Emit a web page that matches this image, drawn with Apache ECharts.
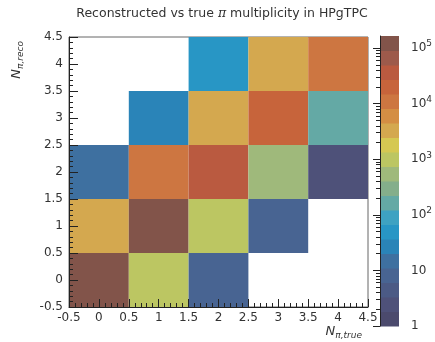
<!DOCTYPE html>
<html>
<head>
<meta charset="utf-8">
<script src="https://cdn.jsdelivr.net/npm/echarts@6/dist/echarts.min.js"></script>
<style>
  html, body { margin: 0; padding: 0; background: #fff; }
  #chart { width: 435px; height: 342px; }
</style>
</head>
<body>
<div id="chart"></div>
<script>
// true (x) and reco (y) pion multiplicity bins
const trueBins = [0, 1, 2, 3, 4];
const recoBins = [0, 1, 2, 3, 4];
// entries per bin, rows = reco bin, columns = true bin (null = empty)
const recoRow0 = [140000, 1000, 8, null, null];
const recoRow1 = [3300, 100000, 1000, 8, null];
const recoRow2 = [15, 11000, 37000, 550, 2.5];
const recoRow3 = [null, 27, 3300, 20000, 165];
const recoRow4 = [null, null, 50, 3300, 11000];
const counts = [recoRow0, recoRow1, recoRow2, recoRow3, recoRow4];
// colour scale range (z axis)
const zMin = 1;
const zMax = 165000;
const zDecades = [0, 1, 2, 3, 4, 5];

// 20 colour bands, low -> high
const palette = [
  "#4b4a6d", "#4e5179", "#4b5a85", "#486492", "#3e70a0",
  "#2a84b8", "#2896c5", "#3ea2c2", "#64a9a5", "#84ae8b",
  "#9fb97b", "#bcc662", "#d5c852", "#d4a84f", "#d48e44",
  "#cd7641", "#c7643b", "#ba5a40", "#9d5a4b", "#82544a",
];

const logMax = Math.log10(zMax);
const step = (logMax - Math.log10(zMin)) / palette.length;

const cells = [];
recoBins.forEach((y, j) => {
  trueBins.forEach((x, i) => {
    const v = counts[j][i];
    if (v != null) cells.push([x, y, Math.log10(v), v]);
  });
});

const bands = palette.map((c, k) => [0.5, (k + 0.5) * step, (k + 0.5) * step]);

const pieces = palette.map((c, k) => {
  const p = { gte: k * step, color: c };
  if (k < palette.length - 1) p.lt = (k + 1) * step;
  else p.lte = logMax + 1;
  return p;
});

const minorTicks = [];
for (let d = 0; d < 6; d++) {
  for (let m = 2; m <= 9; m++) {
    const t = d + Math.log10(m);
    if (t <= logMax) minorTicks.push(t);
  }
}

const font = "DejaVu Sans";
const axisColor = "#222";

const chart = echarts.init(document.getElementById("chart"));
chart.setOption({
  animation: false,
  textStyle: { fontFamily: font },
  grid: [
    { left: 69, top: 37, width: 299, height: 270, show: true, borderColor: "#666", borderWidth: 1, backgroundColor: "#fff" },
    { left: 380, top: 36, width: 20, height: 290 },
    { left: 380, top: 36, width: 20, height: 290 },
  ],
  visualMap: {
    type: "piecewise",
    show: false,
    dimension: 2,
    seriesIndex: [0, 1],
    pieces: pieces,
  },
  xAxis: [
    {
      type: "value", gridIndex: 0, min: -0.5, max: 4.5, interval: 0.5, z: 5,
      axisLine: { onZero: false, lineStyle: { color: axisColor, width: 1 } },
      axisTick: { inside: true, length: 8, lineStyle: { color: axisColor } },
      minorTick: { show: true, splitNumber: 5, length: 4, lineStyle: { color: axisColor } },
      axisLabel: { color: "#333", fontSize: 12, margin: 5, showMinLabel: true, showMaxLabel: true },
      splitLine: { show: false },
    },
    { type: "value", gridIndex: 1, min: 0, max: 1, show: false },
    { type: "value", gridIndex: 2, min: 0, max: 1, show: false },
  ],
  yAxis: [
    {
      type: "value", gridIndex: 0, min: -0.5, max: 4.5, interval: 0.5, z: 5,
      axisLine: { onZero: false, lineStyle: { color: axisColor, width: 1 } },
      axisTick: { inside: true, length: 9, lineStyle: { color: axisColor } },
      minorTick: { show: true, splitNumber: 5, length: 4, lineStyle: { color: axisColor } },
      axisLabel: { color: "#333", fontSize: 12, margin: 6, showMinLabel: true, showMaxLabel: true },
      splitLine: { show: false },
    },
    {
      type: "value", gridIndex: 1, min: 0, max: logMax, position: "right", z: 5,
      axisLine: { show: true, lineStyle: { color: axisColor, width: 1 } },
      axisTick: { inside: true, length: 7, customValues: zDecades, lineStyle: { color: axisColor } },
      axisLabel: {
        customValues: zDecades, color: "#333", fontSize: 12, margin: 12,
        formatter: (v) => (v === 0 ? "1" : v === 1 ? "10" : "10{sup|" + v + "}"),
        rich: { sup: { fontSize: 9, padding: [0, 0, 8, 0], color: "#333" } },
      },
      splitLine: { show: false },
    },
    {
      type: "value", gridIndex: 2, min: 0, max: logMax, position: "right", z: 5,
      axisLine: { show: false },
      axisTick: { inside: true, length: 4, customValues: minorTicks, lineStyle: { color: axisColor } },
      axisLabel: { show: false },
      splitLine: { show: false },
    },
  ],
  series: [
    {
      type: "custom",
      xAxisIndex: 0, yAxisIndex: 0,
      data: cells,
      renderItem: (params, api) => {
        const p0 = api.coord([api.value(0) - 0.5, api.value(1) + 0.5]);
        const p1 = api.coord([api.value(0) + 0.5, api.value(1) - 0.5]);
        return {
          type: "rect",
          shape: { x: p0[0], y: p0[1], width: p1[0] - p0[0], height: p1[1] - p0[1] },
          style: { fill: api.visual("color") },
        };
      },
    },
    {
      type: "custom",
      xAxisIndex: 1, yAxisIndex: 1,
      data: bands,
      renderItem: (params, api) => {
        const p0 = api.coord([0, api.value(1) + step / 2]);
        const p1 = api.coord([1, api.value(1) - step / 2]);
        return {
          type: "rect",
          shape: { x: p0[0], y: p0[1], width: p1[0] - p0[0], height: p1[1] - p0[1] + 0.5 },
          style: { fill: api.visual("color") },
        };
      },
    },
  ],
  graphic: [
    {
      type: "text", x: 222, y: 14,
      style: {
        text: "Reconstructed vs true {pi|π} multiplicity in HPgTPC",
        font: "12.5px " + font, fill: "#333", align: "center", verticalAlign: "middle",
        rich: { pi: { fontFamily: "DejaVu Serif", fontStyle: "italic", fontSize: 12.5, fill: "#333" } },
      },
    },
    {
      type: "text", x: 17, y: 41, rotation: Math.PI / 2,
      style: {
        text: "{n|N}{s|π,reco}",
        align: "right", verticalAlign: "middle", fill: "#333",
        rich: {
          n: { fontFamily: font, fontStyle: "italic", fontSize: 13, fill: "#333" },
          s: { fontFamily: font, fontStyle: "italic", fontSize: 9, padding: [7, 0, 0, 0], fill: "#333" },
        },
      },
    },
    {
      type: "text", x: 362, y: 332,
      style: {
        text: "{n|N}{s|π,true}",
        align: "right", verticalAlign: "middle", fill: "#333",
        rich: {
          n: { fontFamily: font, fontStyle: "italic", fontSize: 13, fill: "#333" },
          s: { fontFamily: font, fontStyle: "italic", fontSize: 9, padding: [7, 0, 0, 0], fill: "#333" },
        },
      },
    },
  ],
});
</script>
</body>
</html>
